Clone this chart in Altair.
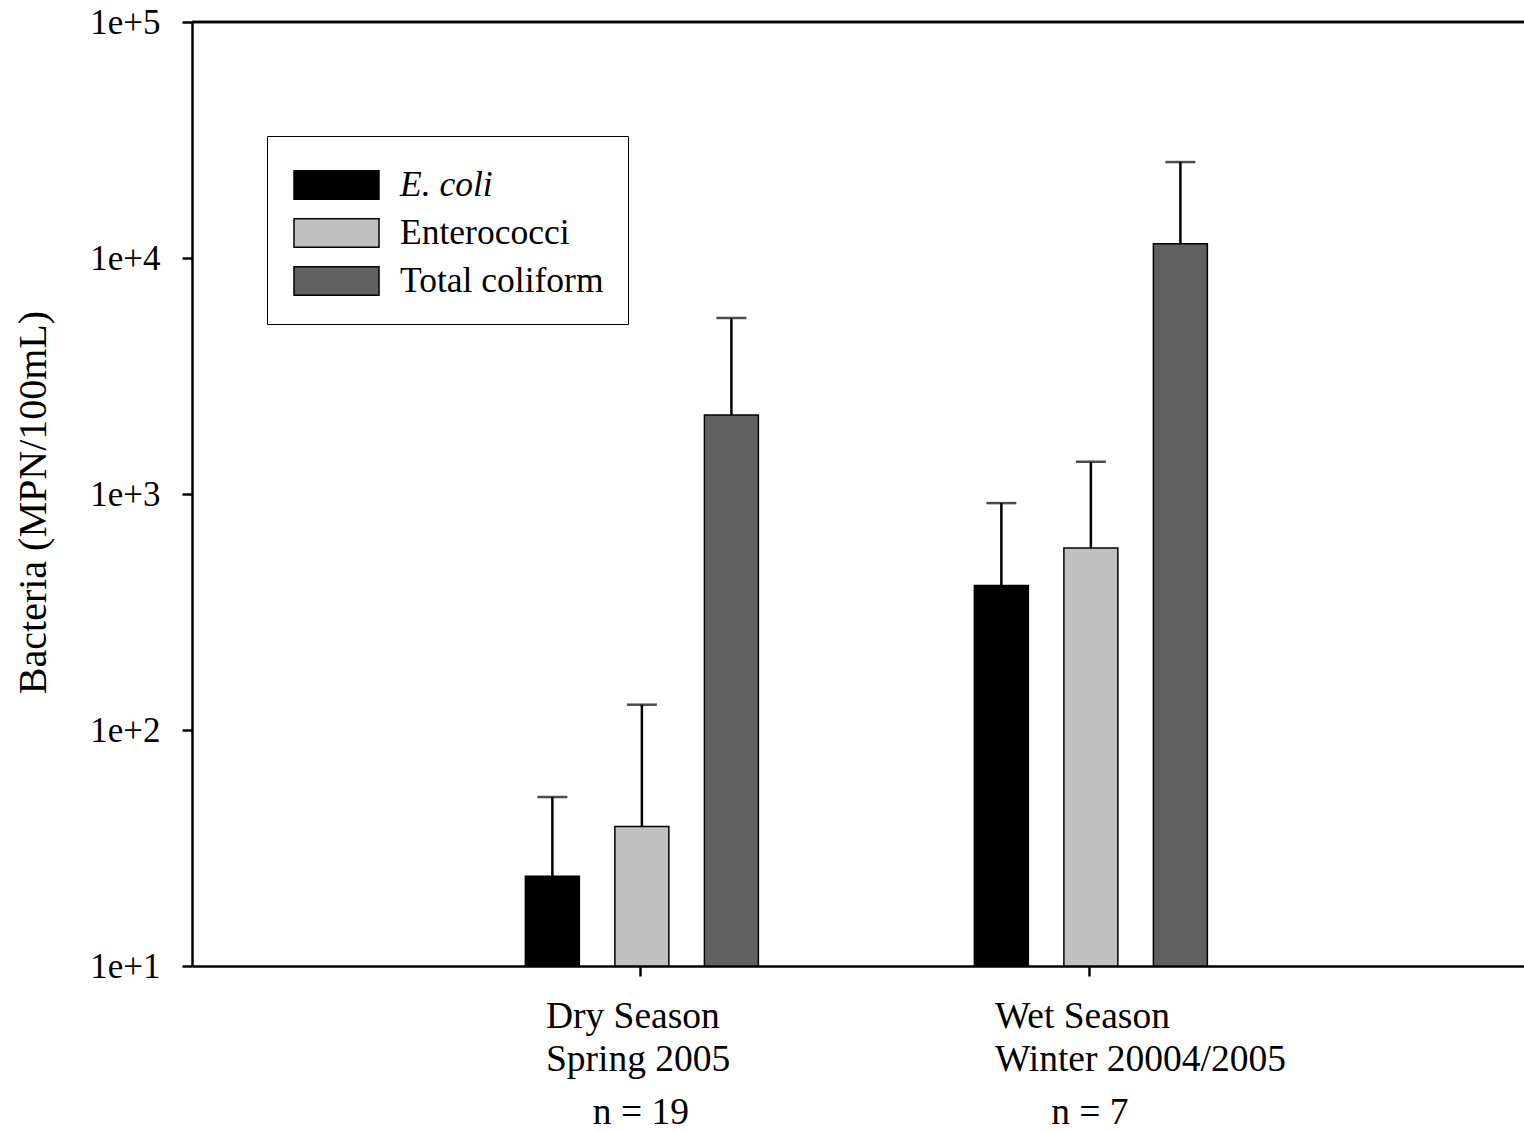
import altair as alt
import pandas as pd

groups = ["Dry", "Wet"]
series = ["E. coli", "Enterococci", "Total coliform"]
colors = ["#000000", "#c0c0c0", "#606060"]
mean_dry = [24, 39, 2160]
mean_wet = [410, 590, 11500]
upper_dry = [52, 128, 5570]
upper_wet = [915, 1370, 25500]
line1 = ["Dry Season", "Wet Season"]
line2 = ["Spring 2005", "Winter 20004/2005"]
nlabels = ["n = 19", "n = 7"]

rows = []
for g, means, ups in [(groups[0], mean_dry, upper_dry), (groups[1], mean_wet, upper_wet)]:
    for s, m, u in zip(series, means, ups):
        rows.append({"group": g, "series": s, "mean": m, "upper": u})
df = pd.DataFrame(rows)
lab = pd.DataFrame({"group": groups, "line1": line1, "line2": line2, "n": nlabels})

FONT = "Liberation Serif"
xscale = alt.Scale(domain=groups, paddingInner=0, paddingOuter=0.4833, align=0.517)
yscale = alt.Scale(type="log", domain=[10, 100000])
offscale = alt.Scale(domain=series, paddingInner=0.397, paddingOuter=0, range=[109, 342])

x_enc = alt.X("group:N", scale=xscale, title=None,
              axis=alt.Axis(labels=False, ticks=True, tickSize=10, tickWidth=2.5,
                            tickColor="black", domainColor="black", domainWidth=2.5))
y_enc = alt.Y("mean:Q", scale=yscale, title="Bacteria (MPN/100mL)",
              axis=alt.Axis(values=[10, 100, 1000, 10000, 100000],
                            labelExpr="'1e+' + round(log(datum.value)/log(10))",
                            labelFontSize=35, labelFont=FONT, labelColor="black",
                            labelPadding=22, tickSize=10, tickWidth=2.5, tickColor="black",
                            domainColor="black", domainWidth=2.5, grid=False,
                            titleFontSize=40, titleFont=FONT, titleFontWeight="normal",
                            titleColor="black", titlePadding=36, titleY=480))

bars = alt.Chart(df).mark_bar(stroke="black", strokeWidth=1.5).encode(
    x=x_enc,
    xOffset=alt.XOffset("series:N", scale=offscale, sort=series),
    y=y_enc,
    y2=alt.datum(10),
    fill=alt.Fill("series:N", scale=alt.Scale(domain=series, range=colors), sort=series,
                  legend=alt.Legend(title=None, orient="none", legendX=75, legendY=114,
                                    symbolType="M-1.771,-0.594H1.771V0.594H-1.771Z",
                                    symbolSize=2304, symbolOffset=20.5,
                                    symbolStrokeColor="black", symbolStrokeWidth=1.5,
                                    labelFont=FONT, labelFontSize=35.5, labelColor="black",
                                    labelOffset=38.5, rowPadding=4, padding=24,
                                    strokeColor="black",
                                    labelFontStyle=alt.ExprRef("datum.label == 'E. coli' ? 'italic' : 'normal'"),
                                    labelLimit=400)),
)

err = alt.Chart(df).mark_rule(color="black", strokeWidth=2.5).encode(
    x=alt.X("group:N", scale=xscale),
    xOffset=alt.XOffset("series:N", scale=offscale, sort=series),
    y=alt.Y("mean:Q", scale=yscale),
    y2="upper:Q",
)

caps = alt.Chart(df).mark_tick(color="black", orient="horizontal", size=30, thickness=2.5).encode(
    x=alt.X("group:N", scale=xscale),
    xOffset=alt.XOffset("series:N", scale=offscale, sort=series),
    y=alt.Y("upper:Q", scale=yscale),
)

top = alt.Chart(lab).mark_rule(color="black", strokeWidth=2.5).encode(
    y=alt.datum(100000, scale=yscale),
)

t1 = alt.Chart(lab).mark_text(align="left", dx=-95, baseline="alphabetic", font=FONT,
                              fontSize=37.5, color="black").encode(
    x=alt.X("group:N", scale=xscale), y=alt.value(1006), text="line1:N")
t2 = alt.Chart(lab).mark_text(align="left", dx=-95, baseline="alphabetic", font=FONT,
                              fontSize=37.5, color="black").encode(
    x=alt.X("group:N", scale=xscale), y=alt.value(1049), text="line2:N")
t3 = alt.Chart(lab).mark_text(align="center", baseline="alphabetic", font=FONT,
                              fontSize=37.5, color="black").encode(
    x=alt.X("group:N", scale=xscale), y=alt.value(1102), text="n:N")

chart = alt.layer(bars, err, caps, top, t1, t2, t3).properties(
    width=1332, height=944,
    autosize=alt.AutoSizeParams(type="none"),
    padding={"left": 192, "top": 22, "right": 0, "bottom": 166},
).configure_view(stroke=None).configure(font=FONT, background="white")

chart.save("out.html", embed_options={"renderer": "svg", "actions": False})
